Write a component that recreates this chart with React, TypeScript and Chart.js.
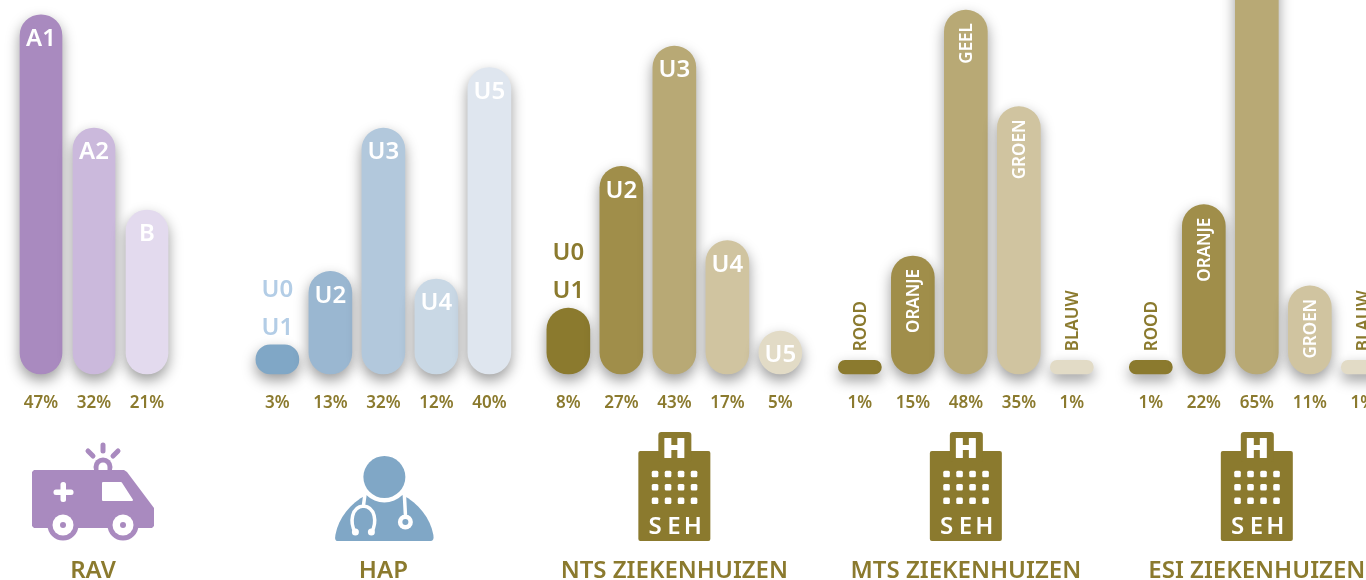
import React, { useEffect, useRef } from "react";
import { Chart, registerables } from "chart.js";

Chart.register(...registerables);

// Data
const ravHeights = [46.9, 32.1, 21.4];
const hapHeights = [3.8, 13.4, 32.1, 12.4, 40];
const ntsHeights = [8.6, 27.1, 42.8, 17.4, 5.6];
const mtsHeights = [1.8, 15.4, 47.5, 34.9, 1.8];
const esiHeights = [1.8, 22.1, 65, 11.5, 1.8];

const ravPercents = ["47%", "32%", "21%"];
const hapPercents = ["3%", "13%", "32%", "12%", "40%"];
const ntsPercents = ["8%", "27%", "43%", "17%", "5%"];
const mtsPercents = ["1%", "15%", "48%", "35%", "1%"];
const esiPercents = ["1%", "22%", "65%", "11%", "1%"];

const ravCategories = ["A1", "A2", "B"];
const uCategories = ["U1", "U2", "U3", "U4", "U5"];
const triageCategories = ["ROOD", "ORANJE", "GEEL", "GROEN", "BLAUW"];

const groupTitles = ["RAV", "HAP", "NTS ZIEKENHUIZEN", "MTS ZIEKENHUIZEN", "ESI ZIEKENHUIZEN"];

// Styles & layout
const PURPLES = ["#a98abf", "#cbb9dc", "#e3daee"];
const BLUES = ["#80a7c6", "#9ab7d1", "#b2c8dc", "#c9d8e5", "#dfe6ef"];
const GOLDS = ["#8b7a2e", "#a08e4a", "#b8a975", "#d0c4a0", "#e2dbc6"];
const GOLD = "#8b7a2e";
const FONT = '"Noto Sans", sans-serif';
const groupStarts = [0, 4.46, 9.95, 15.45, 20.94];

type Group = { heights: number[]; percents: string[]; cats: string[]; colors: string[]; thick: number };
const groups: Group[] = [
  { heights: ravHeights, percents: ravPercents, cats: ravCategories, colors: PURPLES, thick: 42 },
  { heights: hapHeights, percents: hapPercents, cats: uCategories, colors: BLUES, thick: 43 },
  { heights: ntsHeights, percents: ntsPercents, cats: uCategories, colors: GOLDS, thick: 43 },
  { heights: mtsHeights, percents: mtsPercents, cats: triageCategories, colors: GOLDS, thick: 43 },
  { heights: esiHeights, percents: esiPercents, cats: triageCategories, colors: GOLDS, thick: 43 },
];

const tickPositions: number[] = [];
const tickLabels: string[] = [];
groups.forEach((g, gi) =>
  g.percents.forEach((p, i) => {
    tickPositions.push(groupStarts[gi] + i);
    tickLabels.push(p);
  })
);

function rr(ctx: CanvasRenderingContext2D, x: number, y: number, w: number, h: number, r: number) {
  ctx.beginPath();
  ctx.roundRect(x, y, w, h, r);
  ctx.fill();
}
function circle(ctx: CanvasRenderingContext2D, x: number, y: number, r: number) {
  ctx.beginPath();
  ctx.arc(x, y, r, 0, Math.PI * 2);
  ctx.fill();
}

function drawAmbulance(ctx: CanvasRenderingContext2D, cx: number) {
  const c = PURPLES[0];
  ctx.save();
  ctx.translate(cx - 93, 0);
  ctx.fillStyle = c;
  // light rays
  ctx.strokeStyle = c;
  ctx.lineWidth = 5;
  ctx.lineCap = "round";
  ctx.beginPath();
  ctx.moveTo(103, 445);
  ctx.lineTo(103, 451);
  ctx.moveTo(88, 451);
  ctx.lineTo(93, 456);
  ctx.moveTo(118, 451);
  ctx.lineTo(113, 456);
  ctx.stroke();
  // beacon
  circle(ctx, 103, 467, 9.5);
  // body
  ctx.beginPath();
  ctx.moveTo(34, 470);
  ctx.lineTo(124, 470);
  ctx.lineTo(127, 472);
  ctx.lineTo(154, 508);
  ctx.lineTo(154, 526);
  ctx.lineTo(152, 528);
  ctx.lineTo(34, 528);
  ctx.lineTo(32, 526);
  ctx.lineTo(32, 472);
  ctx.closePath();
  ctx.fill();
  // beacon window
  ctx.fillStyle = "#fff";
  ctx.beginPath();
  ctx.arc(103, 467, 4.5, Math.PI, 0);
  ctx.lineTo(107.5, 470);
  ctx.lineTo(98.5, 470);
  ctx.closePath();
  ctx.fill();
  // wheels
  [63, 123].forEach((x) => {
    ctx.fillStyle = c;
    circle(ctx, x, 525, 15.5);
    ctx.fillStyle = "#fff";
    circle(ctx, x, 525, 10.5);
    ctx.fillStyle = c;
    circle(ctx, x, 525, 3);
  });
  // window
  ctx.fillStyle = "#fff";
  ctx.strokeStyle = "#fff";
  ctx.lineWidth = 2;
  ctx.lineJoin = "round";
  ctx.beginPath();
  ctx.moveTo(103, 483);
  ctx.lineTo(121, 483);
  ctx.lineTo(132, 500);
  ctx.lineTo(103, 500);
  ctx.closePath();
  ctx.fill();
  ctx.stroke();
  // cross
  rr(ctx, 53.5, 489.5, 20, 5.5, 2.5);
  rr(ctx, 60.5, 482, 5.5, 20, 2.5);
  ctx.restore();
}

function drawDoctor(ctx: CanvasRenderingContext2D, cx: number) {
  const c = BLUES[0];
  ctx.save();
  ctx.translate(cx - 383, 0);
  ctx.fillStyle = c;
  // torso
  ctx.beginPath();
  ctx.moveTo(337, 541);
  ctx.quadraticCurveTo(334, 541, 335, 535);
  ctx.bezierCurveTo(338, 518, 350, 503, 366, 495);
  ctx.lineTo(402, 495);
  ctx.bezierCurveTo(418, 503, 430, 518, 433, 535);
  ctx.quadraticCurveTo(434, 541, 430, 541);
  ctx.closePath();
  ctx.fill();
  // ring around the head
  ctx.fillStyle = "#fff";
  circle(ctx, 384, 477, 25.5);
  ctx.fillStyle = c;
  circle(ctx, 384, 477, 21);
  // stethoscope
  ctx.strokeStyle = "#fff";
  ctx.lineWidth = 3.5;
  ctx.lineCap = "round";
  ctx.beginPath();
  ctx.moveTo(364.5, 495);
  ctx.lineTo(363, 506);
  ctx.moveTo(355, 533);
  ctx.bezierCurveTo(349, 522, 351, 507, 363, 506);
  ctx.bezierCurveTo(375, 507, 377, 522, 371, 533);
  ctx.moveTo(404, 495);
  ctx.lineTo(405, 514);
  ctx.stroke();
  ctx.fillStyle = "#fff";
  circle(ctx, 355, 532, 3.5);
  circle(ctx, 371, 532, 3.5);
  circle(ctx, 405, 522, 7.5);
  ctx.fillStyle = c;
  circle(ctx, 405, 522, 3);
  ctx.restore();
}

function drawHospital(ctx: CanvasRenderingContext2D, cx: number) {
  ctx.save();
  ctx.translate(cx - 675, 0);
  ctx.fillStyle = GOLD;
  rr(ctx, 639, 451, 72, 90, 2);
  rr(ctx, 659, 432, 33, 30, 3);
  ctx.fillStyle = "#fff";
  rr(ctx, 665, 438, 7, 20, 0.5);
  rr(ctx, 678, 438, 7, 20, 0.5);
  ctx.fillRect(670, 445, 10, 5);
  [655.7, 668.7, 681.7, 694.7].forEach((x) =>
    [474, 487.3, 500.7].forEach((y) => rr(ctx, x - 3.3, y - 3.3, 6.6, 6.6, 1.5))
  );
  ctx.font = `600 24px ${FONT}`;
  ctx.textAlign = "center";
  ctx.textBaseline = "alphabetic";
  ["S", "E", "H"].forEach((t, i) => ctx.fillText(t, 655.7 + i * 18.9, 534));
  ctx.restore();
}

const overlayPlugin = {
  id: "overlay",
  beforeDatasetsDraw(chart: any) {
    const ctx = chart.ctx;
    ctx.save();
    ctx.shadowColor = "rgba(0,0,0,0.4)";
    ctx.shadowBlur = 14;
    ctx.shadowOffsetX = 0;
    ctx.shadowOffsetY = 6;
  },
  afterDatasetsDraw(chart: any) {
    const ctx: CanvasRenderingContext2D = chart.ctx;
    ctx.restore();
    ctx.save();
    groups.forEach((g, gi) => {
      const meta = chart.getDatasetMeta(gi);
      const mid = meta.data[Math.floor(g.cats.length / 2)];
      // bar labels
      g.cats.forEach((cat, i) => {
        const bar = meta.data[i];
        if (gi <= 2) {
          ctx.font = `600 24px ${FONT}`;
          ctx.textAlign = "center";
          ctx.textBaseline = "middle";
          if (cat === "U1") {
            const col = gi === 1 ? "#b3cde6" : GOLD;
            ctx.fillStyle = col;
            ctx.fillText("U1", bar.x, bar.y - 17);
            ctx.fillText("U0", bar.x, bar.y - 55);
          } else {
            ctx.fillStyle = "#fff";
            ctx.fillText(cat, bar.x, bar.y + 24.5);
          }
        } else {
          ctx.save();
          ctx.translate(bar.x, bar.y);
          ctx.rotate(-Math.PI / 2);
          ctx.font = `600 17px ${FONT}`;
          ctx.textBaseline = "middle";
          const outside = cat === "ROOD" || cat === "BLAUW";
          if (outside) {
            ctx.textAlign = "left";
            ctx.fillStyle = GOLD;
            ctx.fillText(cat, 9, 1);
          } else {
            ctx.textAlign = "right";
            ctx.fillStyle = "#fff";
            ctx.fillText(cat, -13, 1);
          }
          ctx.restore();
        }
      });
      // icon
      if (gi === 0) drawAmbulance(ctx, mid.x - 1);
      else if (gi === 1) drawDoctor(ctx, mid.x);
      else drawHospital(ctx, mid.x);
      // title
      ctx.font = `600 24px ${FONT}`;
      ctx.fillStyle = GOLD;
      ctx.textAlign = "center";
      ctx.textBaseline = "alphabetic";
      ctx.fillText(groupTitles[gi], mid.x - (gi === 0 ? 1 : 0), 578);
    });
    ctx.restore();
  },
};

export default function App() {
  const ref = useRef<HTMLCanvasElement>(null);
  useEffect(() => {
    document.body.style.margin = "0";
    const chart = new Chart(ref.current as HTMLCanvasElement, {
      type: "bar",
      data: {
        datasets: groups.map((g, gi) => ({
          label: groupTitles[gi],
          data: g.heights.map((h, i) => ({ x: groupStarts[gi] + i, y: h })),
          backgroundColor: g.colors,
          barThickness: g.thick,
          borderRadius: 22,
          borderSkipped: false,
          grouped: false,
          clip: false,
        })),
      } as any,
      options: {
        responsive: false,
        animation: false,
        layout: { padding: 0 },
        plugins: { legend: { display: false }, tooltip: { enabled: false } },
        scales: {
          y: { display: false, min: 0, max: 48.82 },
          x: {
            type: "linear",
            offset: false,
            min: -0.7736,
            max: 25,
            grid: { display: false },
            border: { display: false },
            afterBuildTicks: (s: any) => {
              s.ticks = tickPositions.map((value) => ({ value }));
            },
            afterFit: (s: any) => {
              s.height = 206;
              s.paddingLeft = 0;
              s.paddingRight = 0;
            },
            ticks: {
              autoSkip: false,
              maxRotation: 0,
              minRotation: 0,
              padding: 11,
              color: GOLD,
              font: { family: '"Noto Sans", sans-serif', size: 17, weight: "600" },
              callback: (_v: any, i: number) => tickLabels[i],
            },
          },
        },
      } as any,
      plugins: [overlayPlugin],
    });
    return () => chart.destroy();
  }, []);
  return <canvas ref={ref} width={1366} height={580} style={{ display: "block" }} />;
}
